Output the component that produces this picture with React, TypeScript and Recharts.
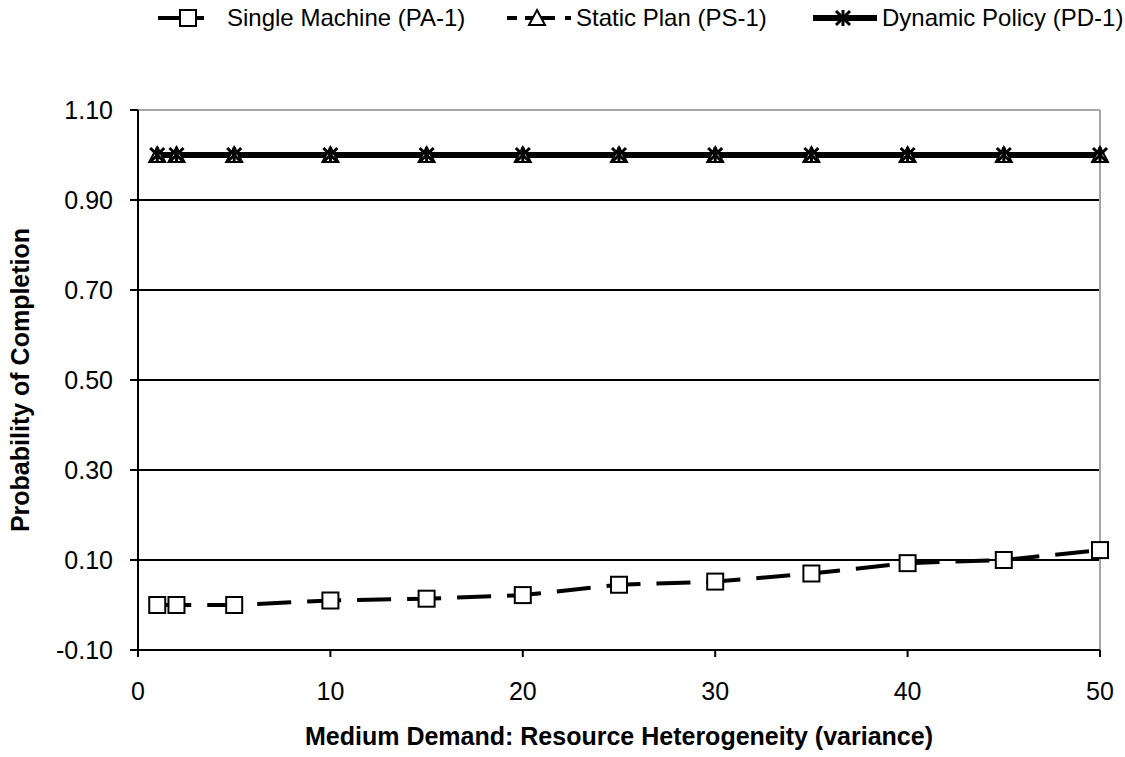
import { LineChart, Line, XAxis, YAxis, CartesianGrid, ReferenceLine } from 'recharts'

// variance levels on the x axis
const variance = [1, 2, 5, 10, 15, 20, 25, 30, 35, 40, 45, 50]
const singleMachine = [0.0, 0.0, 0.0, 0.01, 0.014, 0.022, 0.045, 0.052, 0.07, 0.093, 0.1, 0.122]
const staticPlan = [1, 1, 1, 1, 1, 1, 1, 1, 1, 1, 1, 1]
const dynamicPolicy = [1, 1, 1, 1, 1, 1, 1, 1, 1, 1, 1, 1]

const xTicks = [0, 10, 20, 30, 40, 50]
const yTicks = [-0.1, 0.1, 0.3, 0.5, 0.7, 0.9, 1.1]
const gridValues = [0.1, 0.3, 0.5, 0.7, 0.9]

const FONT = 'Liberation Sans, Arial, sans-serif'

const rows = variance.map((v, i) => ({
  v,
  pa: singleMachine[i],
  ps: staticPlan[i],
  pd: dynamicPolicy[i],
}))

const Square = ({ cx, cy }: any) => (
  <rect x={cx - 8} y={cy - 8} width={16} height={16} fill="#fff" stroke="#000" strokeWidth={2} />
)

const Triangle = ({ cx, cy }: any) => (
  <polygon points={`${cx},${cy - 8} ${cx + 8},${cy + 7} ${cx - 8},${cy + 7}`} fill="#fff" stroke="#000" strokeWidth={2} />
)

const Star = ({ cx, cy }: any) => (
  <g stroke="#000" strokeWidth={3}>
    <line x1={cx - 7} y1={cy - 7} x2={cx + 7} y2={cy + 7} />
    <line x1={cx - 7} y1={cy + 7} x2={cx + 7} y2={cy - 7} />
    <line x1={cx} y1={cy - 8} x2={cx} y2={cy + 8} />
  </g>
)

const legendItems = [
  { label: 'Single Machine (PA-1)', left: 158, dash: '24 14 8 30', width: 4, Marker: Square },
  { label: 'Static Plan (PS-1)', left: 507, dash: '10 8 30 10 8 20', width: 4, Marker: Triangle },
  { label: 'Dynamic Policy (PD-1)', left: 813, dash: undefined, width: 6, Marker: Star },
]

function ChartLegend() {
  return (
    <div style={{ position: 'absolute', top: 4, left: 0, width: 1125, height: 30, fontFamily: FONT, fontSize: 24 }}>
      {legendItems.map(({ label, left, dash, width, Marker }) => (
        <div key={label} style={{ position: 'absolute', left, top: 0, display: 'flex', alignItems: 'center', whiteSpace: 'nowrap' }}>
          <svg width={64} height={28}>
            <line x1={0} y1={14} x2={64} y2={14} stroke="#000" strokeWidth={width} strokeDasharray={dash} />
            <Marker cx={30} cy={14} />
          </svg>
          <span style={{ marginLeft: 5, lineHeight: '28px' }}>{label}</span>
        </div>
      ))}
    </div>
  )
}

export default function App() {
  return (
    <div style={{ position: 'absolute', left: 0, top: 0, width: 1125, height: 757, background: '#fff' }}>
      <ChartLegend />
      <LineChart width={1125} height={757} data={rows} margin={{ top: 110, right: 25, bottom: 0, left: 0 }}>
        <CartesianGrid horizontal vertical={false} horizontalValues={gridValues} stroke="#000" strokeWidth={2} />
        <XAxis
          dataKey="v"
          type="number"
          domain={[0, 50]}
          ticks={xTicks}
          height={107}
          stroke="#000"
          strokeWidth={2}
          tickSize={7}
          tickMargin={25}
          tick={{ fill: '#000', fontSize: 25, fontFamily: FONT }}
          label={{ value: 'Medium Demand: Resource Heterogeneity (variance)', position: 'insideBottom', offset: 12, style: { fontWeight: 'bold', fontSize: 25, fontFamily: FONT, fill: '#000' } }}
        />
        <YAxis
          type="number"
          domain={[-0.1, 1.1]}
          ticks={yTicks}
          width={138}
          stroke="#000"
          strokeWidth={2}
          tickSize={8}
          tickMargin={17}
          tickFormatter={(v: number) => v.toFixed(2)}
          tick={{ fill: '#000', fontSize: 25, fontFamily: FONT }}
          label={{ value: 'Probability of Completion', angle: -90, position: 'insideLeft', offset: 20, style: { textAnchor: 'middle', fontWeight: 'bold', fontSize: 25, fontFamily: FONT, fill: '#000' } }}
        />
        <ReferenceLine y={1.1} stroke="#a6a6a6" strokeWidth={2} />
        <ReferenceLine x={50} stroke="#a6a6a6" strokeWidth={2} />
        <Line dataKey="pa" stroke="#000" strokeWidth={4} strokeDasharray="34 16" dot={<Square />} isAnimationActive={false} />
        <Line dataKey="ps" stroke="#000" strokeWidth={4} strokeDasharray="34 16" dot={<Triangle />} isAnimationActive={false} />
        <Line dataKey="pd" stroke="#000" strokeWidth={6} dot={<Star />} isAnimationActive={false} />
      </LineChart>
    </div>
  )
}
